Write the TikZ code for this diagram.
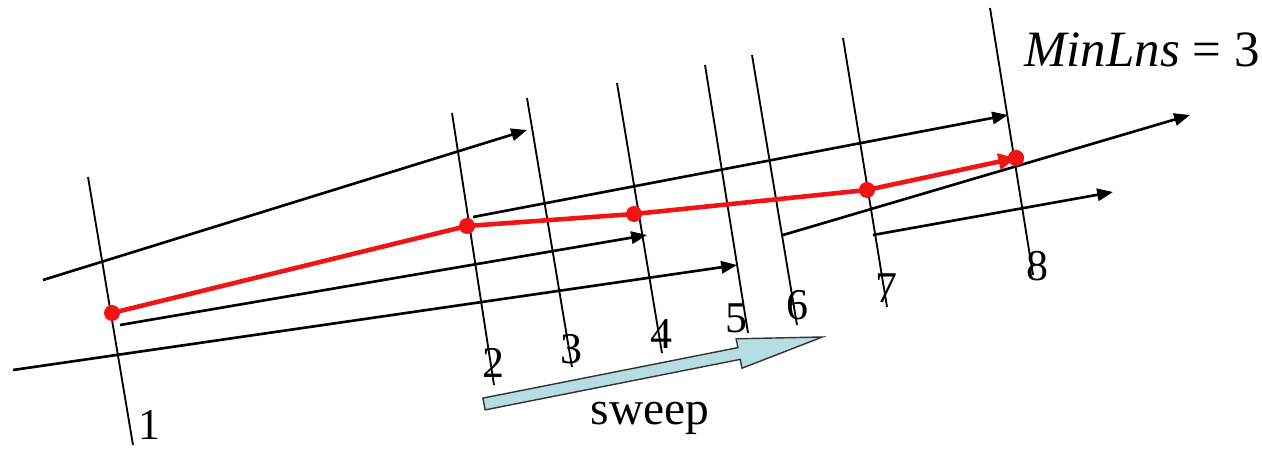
\documentclass[tikz,border=0pt]{standalone}
\usepackage{fontspec}
\setmainfont{Liberation Serif}
\usetikzlibrary{arrows.meta}
\definecolor{sweepblue}{RGB}{182,221,228}
\definecolor{trred}{RGB}{240,20,20}

\begin{document}
\begin{tikzpicture}[
    sline/.style={draw, line width=1.05pt},
    traj/.style={draw, line width=1.5pt, -{Triangle[length=9pt, width=7pt]}},
    rep/.style={draw=trred, line width=2.6pt},
    dot/.style={circle, fill=trred, inner sep=0pt, minimum size=0.32cm},
    lbl/.style={font=\fontsize{25}{25}\selectfont, inner sep=0pt}
]
    \useasboundingbox (0,0) rectangle (25.24,9);

    % Draw sweep lines
    \foreach \n/\tx/\ty/\bx/\by in {1/1.76/5.46/2.66/0.10, 2/9.04/6.74/9.88/1.30,
        3/10.54/7.04/11.44/1.66, 4/12.34/7.34/13.24/1.94, 5/14.10/7.70/14.96/2.34,
        6/15.04/7.90/15.94/2.50, 7/16.86/8.24/17.74/2.86, 8/19.80/8.84/20.66/3.50} {
        \coordinate (t\n) at (\tx,\ty);
        \coordinate (b\n) at (\bx,\by);
        \draw[sline] (t\n) -- (b\n);
    }

    % Labels
    \foreach \n/\x/\y in {1/2.98/0.50, 2/9.86/1.74, 3/11.42/2.02, 4/13.22/2.32,
        5/14.72/2.64, 6/15.94/2.90, 7/17.72/3.24, 8/20.74/3.68} {
        \node[lbl] (l\n) at (\x,\y) {\n};
    }

    % Trajectories
    \coordinate (a0) at (0.86,3.40);   \coordinate (a1) at (10.54,6.40);
    \coordinate (c0) at (9.46,4.66);   \coordinate (c1) at (20.16,6.70);
    \coordinate (d0) at (2.40,2.50);   \coordinate (d1) at (12.94,4.30);
    \coordinate (e0) at (0.26,1.60);   \coordinate (e1) at (14.74,3.70);
    \coordinate (f0) at (15.66,4.30);  \coordinate (f1) at (23.80,6.70);
    \coordinate (g0) at (17.46,4.30);  \coordinate (g1) at (22.26,5.16);
    \foreach \s in {a,c,d,e,f,g} {
        \draw[traj] (\s0) -- (\s1);
    }

    % Representative trajectory
    \node[dot] (r1) at (2.24,2.74) {};
    \node[dot] (r2) at (9.34,4.48) {};
    \node[dot] (r3) at (12.68,4.72) {};
    \node[dot] (r4) at (17.34,5.20) {};
    \node[dot] (r5) at (20.32,5.84) {};
    \draw[rep] (r1.center) -- (r2.center) -- (r3.center) -- (r4.center);
    \draw[rep, -{Triangle[length=10pt, width=9pt]}] (r4.center) -- (r5.center);
    \node[dot] at (r5) {};

    % Sweep arrow
    \begin{scope}[shift={(9.68,0.92)}, rotate=11.2]
        \draw[fill=sweepblue, draw=black!80, line width=0.8pt]
            (0,-0.12) -- (5.2,-0.12) -- (5.2,-0.30) -- (6.9,0)
            -- (5.2,0.30) -- (5.2,0.12) -- (0,0.12) -- cycle;
    \end{scope}
    \node[lbl, font=\fontsize{27}{27}\selectfont] (sweep) at (13.0,0.64) {sweep};

    \node[lbl, font=\fontsize{29}{29}\selectfont, anchor=west] (minlns) at (20.48,8.00)
        {\textit{MinLns} = 3};
\end{tikzpicture}
\end{document}
